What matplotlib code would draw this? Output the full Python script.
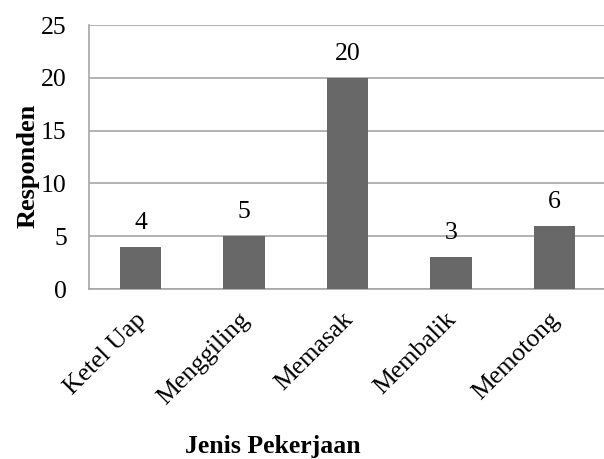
import matplotlib.pyplot as plt
import matplotlib.transforms as mtransforms

jenis = ['Ketel Uap', 'Menggiling', 'Memasak', 'Membalik', 'Memotong']
responden = [4, 5, 20, 3, 6]
yticks = [0, 5, 10, 15, 20, 25]

plt.rcParams['font.family'] = ['Liberation Serif', 'DejaVu Serif']

fig = plt.figure(figsize=(6.04, 4.59), dpi=100)
ax = fig.add_axes([89 / 604, 1 - 289 / 459, 517 / 604, 264 / 459])

x = range(len(jenis))
bars = ax.bar(x, responden, width=0.4, color='#686868', zorder=3)
for b, v in zip(bars, responden):
    ax.annotate(str(v), (b.get_x() + b.get_width() / 2, v),
                xytext=(0, 13), textcoords='offset points',
                ha='center', va='baseline', fontsize=18.5)

ax.set_xlim(-0.5, len(jenis) - 0.5)
ax.set_ylim(0, 25)
ax.set_yticks(yticks)
ax.yaxis.grid(True, color='#a6a6a6', linewidth=1.2, zorder=0)
ax.set_axisbelow(True)
for s in ['top', 'right']:
    ax.spines[s].set_visible(False)
for s in ['left', 'bottom']:
    ax.spines[s].set_color('#a6a6a6')
    ax.spines[s].set_linewidth(1.2)

ax.tick_params(axis='y', length=0, pad=16, labelsize=18.5)
ax.tick_params(axis='x', length=0, pad=14, labelsize=18.5)
ax.set_xticks(list(x))
ax.set_xticklabels(jenis, rotation=45, ha='right', rotation_mode='anchor')
# nudge the slanted labels a little to the left
shift = mtransforms.ScaledTranslation(-0.06, 0, fig.dpi_scale_trans)
for lbl in ax.get_xticklabels():
    lbl.set_transform(lbl.get_transform() + shift)

ax.set_ylabel('Responden', fontsize=19, fontweight='bold')
ax.yaxis.set_label_coords(-0.096, 0.466)
fig.text(273 / 604, 1 - 453 / 459, 'Jenis Pekerjaan', ha='center', va='baseline',
         fontsize=18.5, fontweight='bold')

fig.savefig('out.png', dpi=100)
